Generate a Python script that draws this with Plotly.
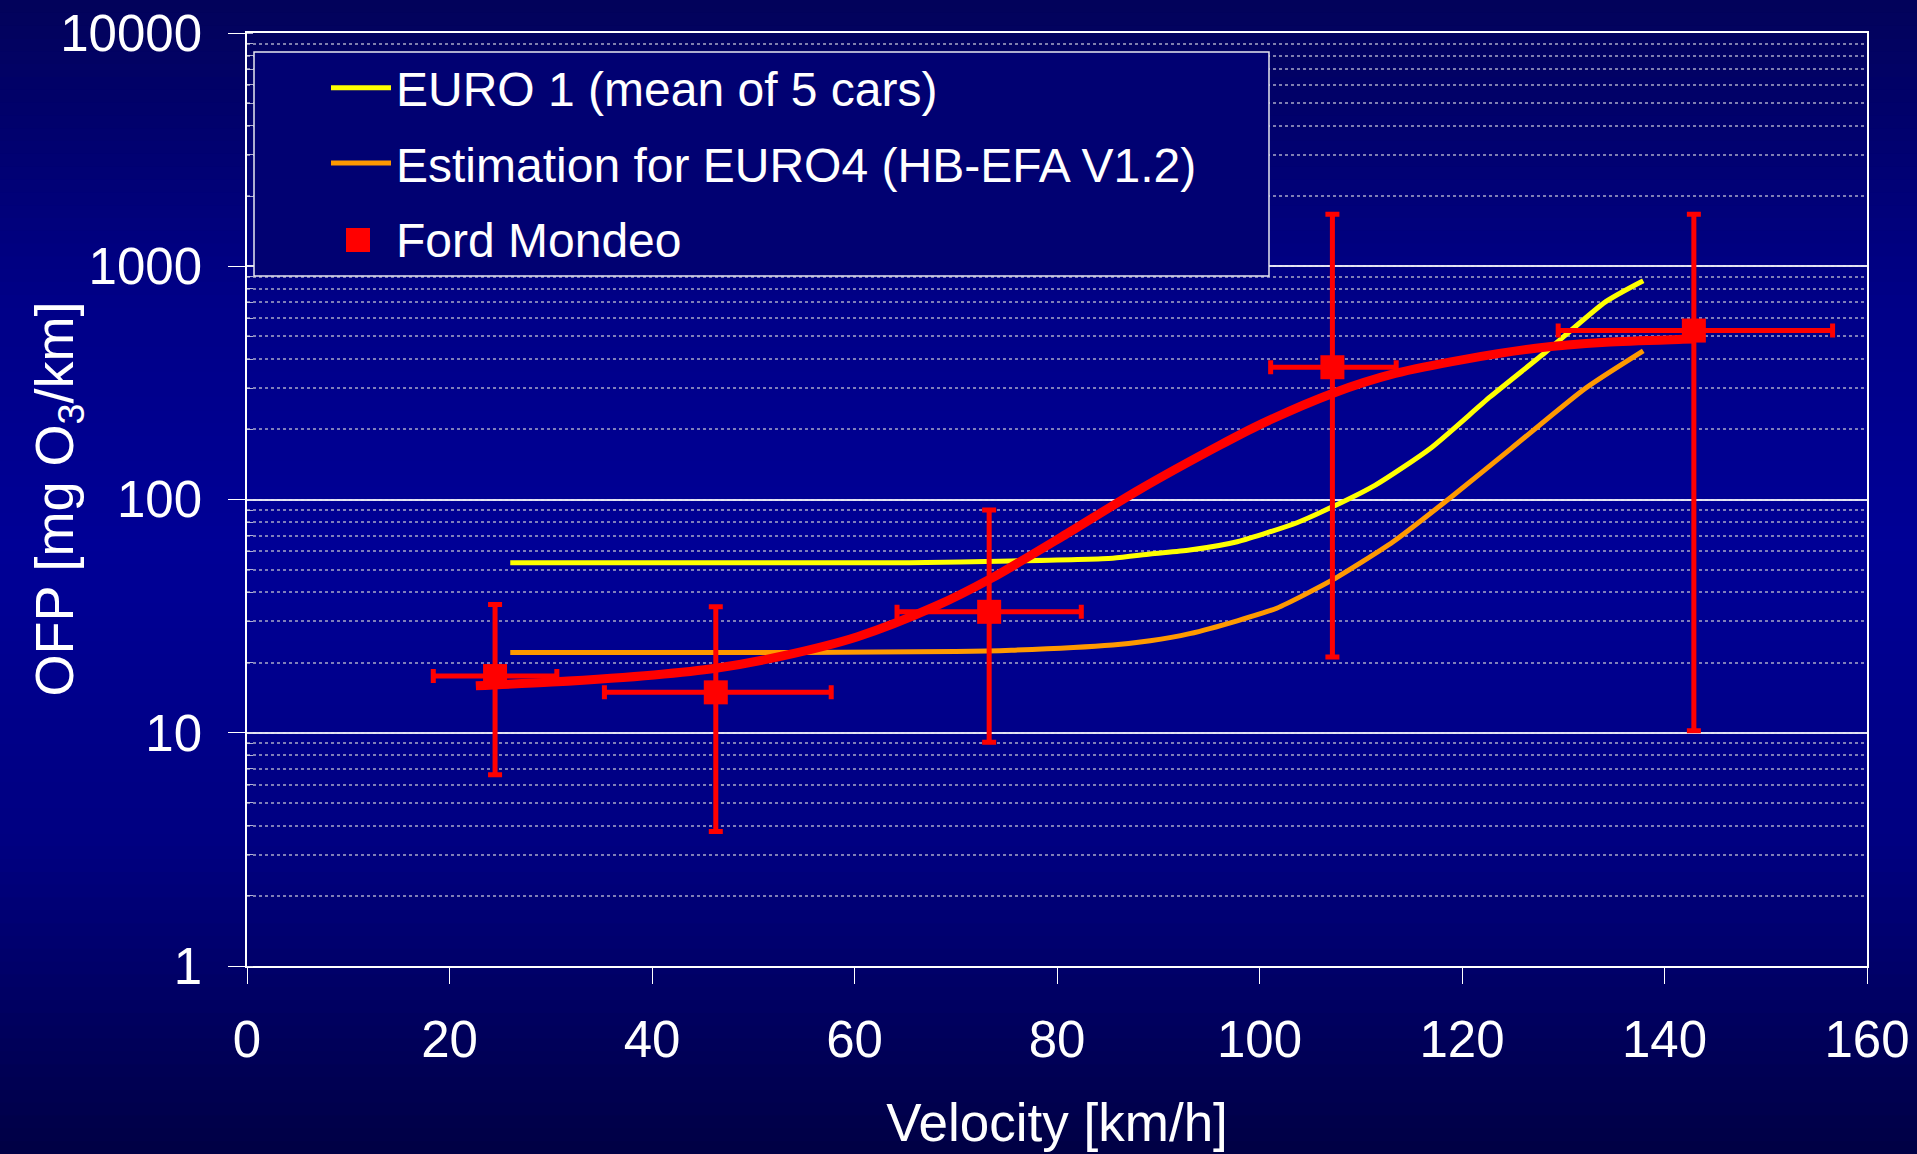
import plotly.graph_objects as go

# ---------------- data ----------------
vel_euro1 = [26, 40, 55, 65.4, 75.5, 85.5, 89.2, 93.1, 97.8, 103.7, 107.2, 111.4, 116.9, 122.8, 128.3, 134.2, 137.9]
ofp_euro1 = [53.5, 53.5, 53.5, 53.6, 54.5, 56.0, 58.4, 60.7, 65.9, 79.5, 93, 115, 166, 276, 430, 705, 867]

vel_euro4 = [26, 40, 55, 70, 75.5, 85.5, 89.2, 93.1, 97.8, 101.7, 107.2, 113.2, 119, 124.9, 132.2, 137.9]
ofp_euro4 = [22.1, 22.1, 22.1, 22.3, 22.6, 23.8, 24.8, 26.6, 30.2, 34.2, 45.2, 65.9, 103, 166, 300, 434]

vel_fit = [22.6, 30.1, 40.2, 46.3, 52.8, 60.3, 67.9, 73.5, 80.5, 88.1, 96.1, 100.2, 107.2, 113.4, 120.4, 127.3, 134.2, 141.8, 143.0]
ofp_fit = [15.9, 16.5, 17.7, 18.9, 21.3, 25.8, 34.7, 45.9, 69.3, 110, 171, 211, 285, 347, 400, 445, 472, 486, 488]

vel_mondeo = [24.5, 46.3, 73.3, 107.2, 142.9]
ofp_mondeo = [17.5, 14.9, 33.0, 369, 530]
ofp_mondeo_hi = [35.5, 34.7, 90.2, 1672, 1672]
ofp_mondeo_lo = [6.6, 3.77, 9.1, 21.1, 10.2]
vel_mondeo_lo = [18.4, 35.3, 64.2, 101.1, 129.5]
vel_mondeo_hi = [30.6, 57.7, 82.4, 113.5, 156.6]

x_ticks = [0, 20, 40, 60, 80, 100, 120, 140, 160]
y_ticks = [1, 10, 100, 1000, 10000]
y_ticktext = ["1", "10", "100", "1000", "10000"]

names = ["EURO 1 (mean of 5 cars)", "Estimation for EURO4 (HB-EFA V1.2)", "Ford Mondeo"]

# ---------------- figure ----------------
W, H = 1917, 1154
ML, MR, MT, MB = 247, 50, 33, 188
PW, PH = W - ML - MR, H - MT - MB

FONT = "Liberation Sans, Arial, sans-serif"

fig = go.Figure()

fig.add_trace(go.Scatter(
    x=vel_euro1, y=ofp_euro1, mode="lines", name=names[0],
    line=dict(color="#FFFF00", width=5, shape="spline", smoothing=0.6),
    legendgroup="a"))
fig.add_trace(go.Scatter(
    x=vel_euro4, y=ofp_euro4, mode="lines", name=names[1],
    line=dict(color="#FF9900", width=5, shape="spline", smoothing=0.6),
    legendgroup="b"))
fig.add_trace(go.Scatter(
    x=vel_fit, y=ofp_fit, mode="lines", showlegend=False,
    line=dict(color="#FF0000", width=9, shape="spline", smoothing=0.8)))

err_y_plus = [h - v for h, v in zip(ofp_mondeo_hi, ofp_mondeo)]
err_y_minus = [v - l for v, l in zip(ofp_mondeo, ofp_mondeo_lo)]
err_x_plus = [h - v for h, v in zip(vel_mondeo_hi, vel_mondeo)]
err_x_minus = [v - l for v, l in zip(vel_mondeo, vel_mondeo_lo)]

fig.add_trace(go.Scatter(
    x=vel_mondeo, y=ofp_mondeo, mode="markers", name=names[2],
    marker=dict(symbol="square", size=24, color="#FF0000"),
    error_y=dict(type="data", symmetric=False, array=err_y_plus, arrayminus=err_y_minus,
                 color="#FF0000", thickness=5, width=7),
    error_x=dict(type="data", symmetric=False, array=err_x_plus, arrayminus=err_x_minus,
                 color="#FF0000", thickness=5, width=7),
    legendgroup="c"))

# ---------------- background gradient ----------------
stops = [(0, (2, 2, 90)), (300, (0, 0, 135)), (550, (0, 0, 150)), (850, (0, 0, 128)), (1154, (0, 0, 68))]


def color_at(py):
    for (y0, c0), (y1, c1) in zip(stops[:-1], stops[1:]):
        if y0 <= py <= y1:
            t = (py - y0) / (y1 - y0)
            return tuple(round(a + (b - a) * t) for a, b in zip(c0, c1))
    return stops[-1][1]


def px_to_paper_y(py):
    return (H - MB - py) / PH


def px_to_paper_x(px):
    return (px - ML) / PW


shapes = []
N = 90
for i in range(N):
    y0 = H * i / N
    y1 = H * (i + 1) / N + 1
    c = color_at((y0 + y1) / 2)
    shapes.append(dict(type="rect", xref="paper", yref="paper", layer="below",
                       x0=px_to_paper_x(-5), x1=px_to_paper_x(W + 5),
                       y0=px_to_paper_y(y1), y1=px_to_paper_y(y0),
                       line=dict(width=0), fillcolor="rgb(%d,%d,%d)" % c))

# legend frame
lc = color_at(160)
shapes.append(dict(type="rect", xref="paper", yref="paper", layer="above",
                   x0=px_to_paper_x(254), x1=px_to_paper_x(1269),
                   y0=px_to_paper_y(276), y1=px_to_paper_y(52),
                   line=dict(color="#E6E6F0", width=1.5),
                   fillcolor="rgb(%d,%d,%d)" % lc))
# enlarged legend swatch for the square marker (legend caps marker size)
shapes.append(dict(type="rect", xref="paper", yref="paper", layer="above",
                   x0=px_to_paper_x(346), x1=px_to_paper_x(370),
                   y0=px_to_paper_y(252), y1=px_to_paper_y(228),
                   line=dict(width=0), fillcolor="#FF0000"))

fig.update_layout(
    width=W, height=H,
    margin=dict(l=ML, r=MR, t=MT, b=MB, autoexpand=False),
    paper_bgcolor="#000080",
    plot_bgcolor="rgba(0,0,0,0)",
    font=dict(family=FONT, color="white", size=48),
    shapes=shapes,
    showlegend=True,
    legend=dict(
        x=px_to_paper_x(326), y=px_to_paper_y(50), xanchor="left", yanchor="top",
        bgcolor="rgba(0,0,0,0)", borderwidth=0,
        font=dict(family=FONT, size=48, color="white"),
        itemwidth=60, tracegroupgap=10, traceorder="grouped",
    ),
    annotations=[dict(
        text="OFP [mg O<sub>3</sub>/km]", textangle=-90,
        xref="paper", yref="paper", x=px_to_paper_x(57), y=0.5,
        xanchor="center", yanchor="middle", showarrow=False,
        font=dict(family=FONT, size=54, color="white"))],
)

fig.update_xaxes(
    range=[0, 160], tickvals=x_ticks, showgrid=False, zeroline=False,
    showline=True, mirror=True, linecolor="white", linewidth=1.5,
    ticks="outside", ticklen=16, tickcolor="white", tickwidth=1,
    tickfont=dict(family=FONT, size=51, color="white"), ticklabelstandoff=12,
    title=dict(text="Velocity [km/h]", font=dict(family=FONT, size=53, color="white"), standoff=37),
)

fig.update_yaxes(
    type="log", range=[0, 4], tickvals=y_ticks, ticktext=y_ticktext,
    showgrid=True, gridcolor="rgba(235,235,245,0.95)", gridwidth=1.5,
    zeroline=False, showline=True, mirror=True, linecolor="white", linewidth=1.5,
    ticks="outside", ticklen=17, tickcolor="white", tickwidth=1,
    tickfont=dict(family=FONT, size=51, color="white"), ticklabelstandoff=16,
    minor=dict(dtick="D1", showgrid=True, gridcolor="rgba(170,170,200,0.75)",
               gridwidth=1.5, griddash="dot", ticks="inside", ticklen=6,
               tickcolor="rgba(220,220,235,0.8)"),
)

fig.write_html(
    "out.html",
    config={"displayModeBar": False},
    post_script="document.body.style.margin='0px';document.body.style.background='#000060';",
)
